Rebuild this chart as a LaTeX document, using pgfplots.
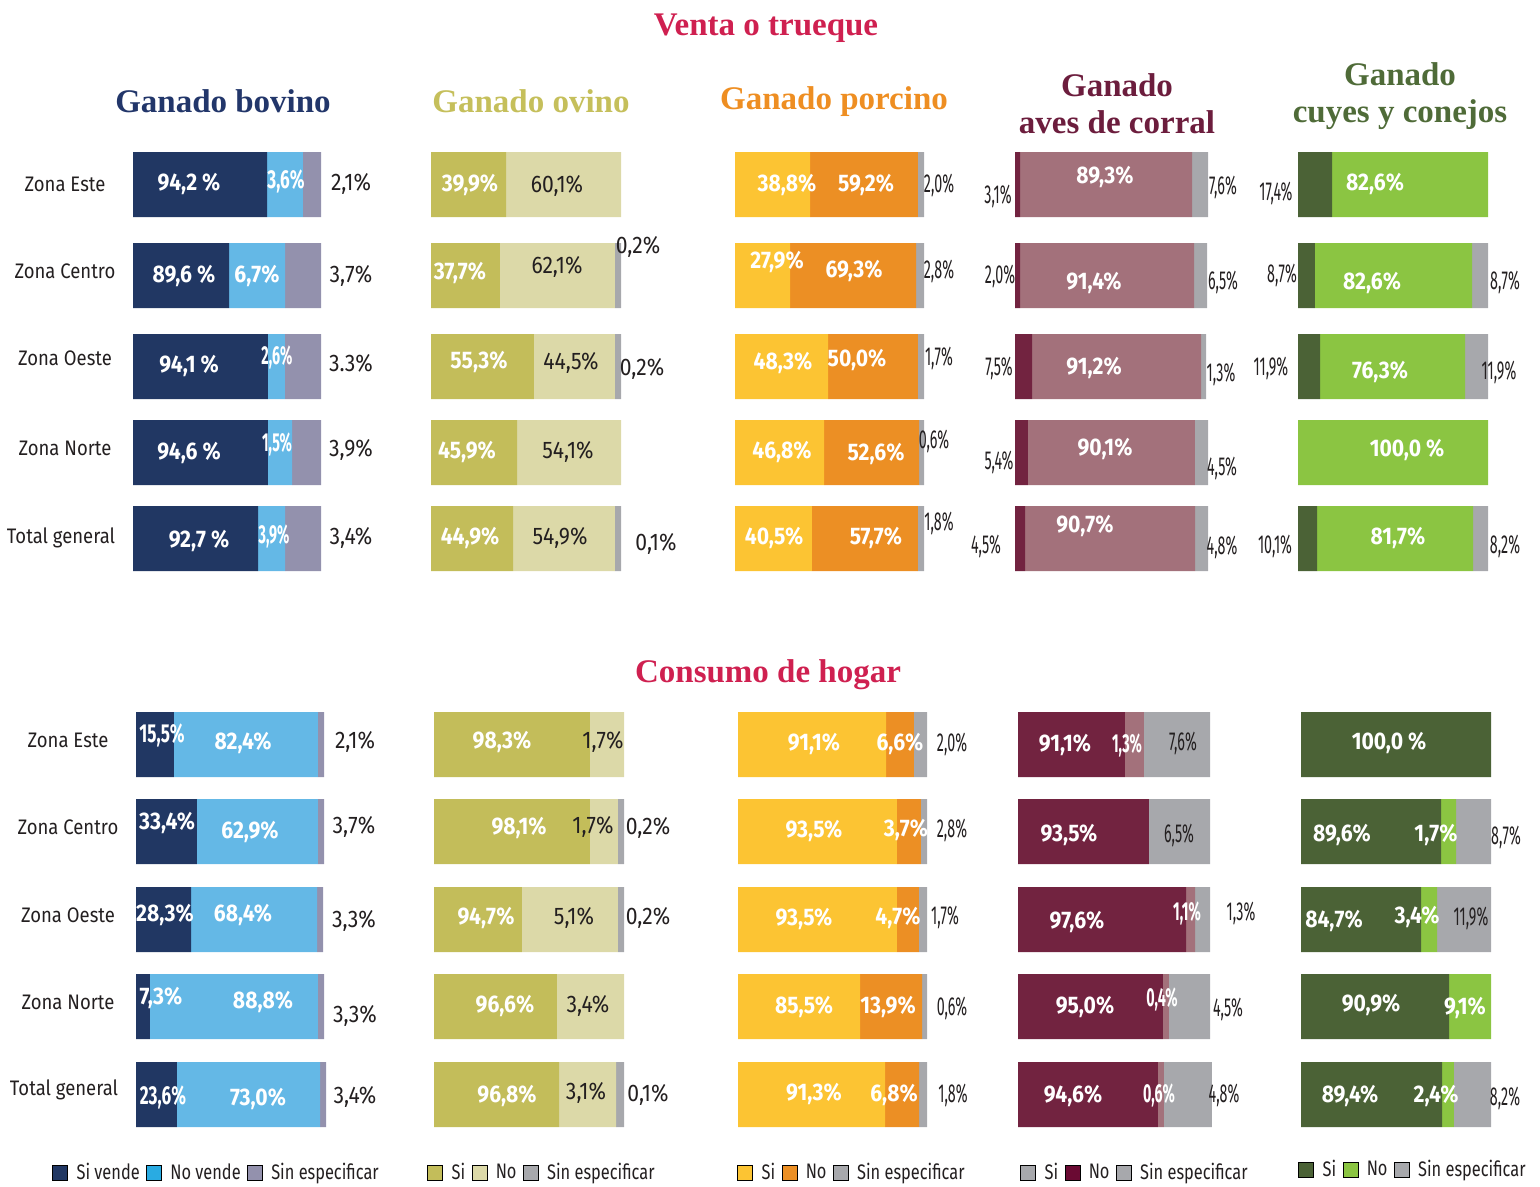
\documentclass[border=0pt]{standalone}
\usepackage{pgfplots}
\usepackage{pgfplotstable}
\pgfplotsset{compat=1.18}
\usepackage{fontspec}
\setmainfont{Fira Sans}[FakeStretch=0.88]
\newfontfamily\condfont{Fira Sans}[FakeStretch=0.66]
\newfontfamily\narrowfont{Fira Sans}[FakeStretch=0.55]
\newfontfamily\legfont{Fira Sans}[FakeStretch=0.78]
\newfontfamily\titlefont{Liberation Serif}

\definecolor{bovA}{HTML}{213763}
\definecolor{bovB}{HTML}{64B8E6}
\definecolor{bovC}{HTML}{9391AD}
\definecolor{bovL}{HTML}{29ABE2}
\definecolor{ovA}{HTML}{C3BD5A}
\definecolor{ovB}{HTML}{DCD9A8}
\definecolor{grC}{HTML}{A7A8AC}
\definecolor{porA}{HTML}{FCC433}
\definecolor{porB}{HTML}{EC8F24}
\definecolor{avA}{HTML}{722340}
\definecolor{avB}{HTML}{A3717B}
\definecolor{avL}{HTML}{6A0A33}
\definecolor{cuA}{HTML}{4B6236}
\definecolor{cuB}{HTML}{8BC542}
\definecolor{tRed}{HTML}{CF2050}
\definecolor{tNavy}{HTML}{22366A}
\definecolor{tOlive}{HTML}{C5BF5B}
\definecolor{tOrange}{HTML}{EE8E22}
\definecolor{tMaroon}{HTML}{6C1D3D}
\definecolor{tGreen}{HTML}{4F6B38}
\definecolor{txt}{HTML}{231F20}

\pgfplotstableread{
y a b c
184.5 71.3 19.1 9.6
275.5 51.1 29.8 19.1
366.5 71.8 9.0 19.2
452.5 71.8 12.8 15.4
538.5 66.5 14.4 19.1
}\tPa
\pgfplotstableread{
y a b c
184.5 39.5 60.5 0
275.5 36.3 60.5 3.2
366.5 54.2 42.6 3.2
452.5 45.3 54.7 0
538.5 43.2 53.6 3.2
}\tPb
\pgfplotstableread{
y a b c
184.5 39.7 57.0 3.3
275.5 29.1 66.7 4.2
366.5 49.2 47.5 3.3
452.5 47.1 50.3 2.6
538.5 40.7 56.1 3.2
}\tPc
\pgfplotstableread{
y a b c
184.5 2.6 89.1 8.3
275.5 2.6 90.2 6.7
366.5 8.8 87.6 2.6
452.5 6.7 86.5 6.8
538.5 5.2 88.1 6.7
}\tPd
\pgfplotstableread{
y a b c
184.5 17.9 82.1 0
275.5 8.9 82.7 8.4
366.5 11.6 76.3 12.1
452.5 0 100 0
538.5 10.0 82.1 7.9
}\tPe
\pgfplotstableread{
y a b c
744.5 20.2 76.6 3.2
831.5 32.4 64.4 3.2
919.5 29.3 67.0 3.2
1006.5 7.4 89.4 3.2
1094.5 21.8 76.1 3.2
}\tQa
\pgfplotstableread{
y a b c
744.5 82.1 17.9 0
831.5 82.1 14.7 3.2
919.5 46.3 50.5 3.2
1006.5 64.7 35.3 0
1094.5 65.8 30.0 4.2
}\tQb
\pgfplotstableread{
y a b c
744.5 78.3 14.8 6.9
831.5 84.1 12.7 3.2
919.5 84.1 11.6 4.3
1006.5 64.6 32.8 2.6
1094.5 77.8 18.0 4.2
}\tQc
\pgfplotstableread{
y a b c
744.5 55.7 9.9 34.4
831.5 68.2 0 31.8
919.5 87.5 4.7 7.8
1006.5 75.5 3.1 21.4
1094.5 72.9 3.1 25.0
}\tQd
\pgfplotstableread{
y a b c
744.5 100 0 0
831.5 73.7 7.9 18.4
919.5 63.2 8.4 28.4
1006.5 77.9 22.1 0
1094.5 74.2 6.3 19.5
}\tQe

\tikzset{
  wb/.style={font=\bfseries\fontsize{12}{14}\selectfont, text=white, inner sep=0pt},
  wc/.style={font=\narrowfont\bfseries\fontsize{13}{15}\selectfont, text=white, inner sep=0pt},
  wm/.style={font=\condfont\bfseries\fontsize{13}{15}\selectfont, text=white, inner sep=0pt},
  dk/.style={font=\fontsize{12}{14}\selectfont, text=txt, inner sep=0pt},
  dc/.style={font=\narrowfont\fontsize{13}{15}\selectfont, text=txt, inner sep=0pt},
  cat/.style={font=\fontsize{10.5}{12}\selectfont, text=txt, inner sep=0pt},
  ttl/.style={font=\titlefont\bfseries\fontsize{16.5}{18.5}\selectfont, align=center, inner sep=0pt},
}
\newcommand\lb[4]{\node[#1] at (axis cs:{(#2-\PL)*100/\PW},#3) {#4};}

\pgfplotsset{
  panel/.style={xbar stacked, bar width=65, scale only axis, height=225pt,
    xmin=0, xmax=100, y dir=reverse, hide axis, clip=false, anchor=south west},
  top/.style={panel, ymin=140, ymax=590},
  bot/.style={panel, ymin=700, ymax=1150},
  leg/.style={hide axis, scale only axis, width=1pt, height=1pt,
    xmin=0, xmax=1, ymin=0, ymax=1, anchor=west,
    legend style={at={(0,0.5)}, anchor=west, draw=none, fill=none,
      inner xsep=0pt, inner ysep=0pt, legend columns=-1, column sep=2.2pt,
      font=\legfont\fontsize{10.5}{12}\selectfont, text=txt,
      /tikz/every even column/.append style={column sep=1.2pt}},
    legend image code/.code={\fill[##1] (0pt,-3.75pt) rectangle (7.5pt,3.75pt);}},
}

\begin{document}
\begin{tikzpicture}
\path[use as bounding box] (0,0) rectangle (770pt,-593.5pt);

% Titles
\begin{scope}[x=0.5pt,y=-0.5pt]
\node[ttl, text=tRed] at (766,28) {Venta o trueque};
\node[ttl, text=tRed] at (768,675) {Consumo de hogar};
\node[ttl, text=tNavy] at (223,101) {Ganado bovino};
\node[ttl, text=tOlive] at (531,101) {Ganado ovino};
\node[ttl, text=tOrange] at (834,102) {Ganado porcino};
\node[ttl, text=tMaroon] at (1117,104) {Ganado\\aves de corral};
\node[ttl, text=tGreen] at (1400,96) {Ganado\\cuyes y conejos};
\end{scope}

% ---------- TOP ROW ----------
\def\PL{133}\def\PW{188}
\begin{axis}[top, width=94pt, at={(66.5pt,-295pt)}]
\addplot[fill=bovA, draw=none] table[x=a,y=y]{\tPa};
\addplot[fill=bovB, draw=none] table[x=b,y=y]{\tPa};
\addplot[fill=bovC, draw=none] table[x=c,y=y]{\tPa};
\end{axis}
\begin{axis}[top, width=94pt, at={(66.5pt,-295pt)}]
\lb{cat}{65}{184}{Zona Este}
\lb{cat}{65}{271}{Zona Centro}
\lb{cat}{65}{358}{Zona Oeste}
\lb{cat}{65}{448}{Zona Norte}
\lb{cat}{61}{538}{Total general}
\lb{wb}{189}{184}{94,2 \%}
\lb{wm}{286}{181}{3,6\%}
\lb{dk}{351}{184}{2,1\%}
\lb{wb}{184}{276}{89,6 \%}
\lb{wb}{257}{276}{6,7\%}
\lb{dk}{351}{276}{3,7\%}
\lb{wb}{189}{366}{94,1 \%}
\lb{wc}{277}{357}{2,6\%}
\lb{dk}{351}{363}{3.3\%}
\lb{wb}{189}{453}{94,6 \%}
\lb{wc}{277}{444}{1,5\%}
\lb{dk}{351}{450}{3,9\%}
\lb{wb}{199}{541}{92,7 \%}
\lb{wc}{274}{536}{3,9\%}
\lb{dk}{351}{538}{3,4\%}
\end{axis}

\def\PL{431}\def\PW{190}
\begin{axis}[top, width=95pt, at={(215.5pt,-295pt)}]
\addplot[fill=ovA, draw=none] table[x=a,y=y]{\tPb};
\addplot[fill=ovB, draw=none] table[x=b,y=y]{\tPb};
\addplot[fill=grC, draw=none] table[x=c,y=y]{\tPb};
\end{axis}
\begin{axis}[top, width=95pt, at={(215.5pt,-295pt)}]
\lb{wb}{470}{185}{39,9\%}
\lb{dk}{557}{186}{60,1\%}
\lb{wb}{460}{273}{37,7\%}
\lb{dk}{557}{267}{62,1\%}
\lb{dk}{638}{247}{0,2\%}
\lb{wb}{479}{362}{55,3\%}
\lb{dk}{571}{363}{44,5\%}
\lb{dk}{642}{369}{0,2\%}
\lb{wb}{467}{452}{45,9\%}
\lb{dk}{568}{452}{54,1\%}
\lb{wb}{470}{538}{44,9\%}
\lb{dk}{560}{538}{54,9\%}
\lb{dk}{656}{544}{0,1\%}
\end{axis}

\def\PL{735}\def\PW{189}
\begin{axis}[top, width=94.5pt, at={(367.5pt,-295pt)}]
\addplot[fill=porA, draw=none] table[x=a,y=y]{\tPc};
\addplot[fill=porB, draw=none] table[x=b,y=y]{\tPc};
\addplot[fill=grC, draw=none] table[x=c,y=y]{\tPc};
\end{axis}
\begin{axis}[top, width=94.5pt, at={(367.5pt,-295pt)}]
\lb{wb}{787}{185}{38,8\%}
\lb{wb}{866}{185}{59,2\%}
\lb{dc}{939}{185}{2,0\%}
\lb{wb}{777}{262}{27,9\%}
\lb{wb}{854}{271}{69,3\%}
\lb{dc}{939}{271}{2,8\%}
\lb{wb}{783}{363}{48,3\%}
\lb{wb}{857}{360}{50,0\%}
\lb{dc}{939}{358}{1,7\%}
\lb{wb}{782}{452}{46,8\%}
\lb{wb}{876}{454}{52,6\%}
\lb{dc}{934}{441}{0,6\%}
\lb{wb}{774}{538}{40,5\%}
\lb{wb}{876}{538}{57,7\%}
\lb{dc}{939}{523}{1,8\%}
\end{axis}

\def\PL{1015}\def\PW{193}
\begin{axis}[top, width=96.5pt, at={(507.5pt,-295pt)}]
\addplot[fill=avA, draw=none] table[x=a,y=y]{\tPd};
\addplot[fill=avB, draw=none] table[x=b,y=y]{\tPd};
\addplot[fill=grC, draw=none] table[x=c,y=y]{\tPd};
\end{axis}
\begin{axis}[top, width=96.5pt, at={(507.5pt,-295pt)}]
\lb{dc}{998}{196}{3,1\%}
\lb{wb}{1105}{177}{89,3\%}
\lb{dc}{1223}{187}{7,6\%}
\lb{dc}{1000}{276}{2,0\%}
\lb{wb}{1094}{283}{91,4\%}
\lb{dc}{1223}{282}{6,5\%}
\lb{dc}{999}{368}{7,5\%}
\lb{wb}{1094}{368}{91,2\%}
\lb{dc}{1221}{374}{1,3\%}
\lb{dc}{999}{462}{5,4\%}
\lb{wb}{1105}{449}{90,1\%}
\lb{dc}{1222}{468}{4,5\%}
\lb{dc}{986}{546}{4,5\%}
\lb{wb}{1085}{526}{90,7\%}
\lb{dc}{1222}{547}{4,8\%}
\end{axis}

\def\PL{1298}\def\PW{190}
\begin{axis}[top, width=95pt, at={(649pt,-295pt)}]
\addplot[fill=cuA, draw=none] table[x=a,y=y]{\tPe};
\addplot[fill=cuB, draw=none] table[x=b,y=y]{\tPe};
\addplot[fill=grC, draw=none] table[x=c,y=y]{\tPe};
\end{axis}
\begin{axis}[top, width=95pt, at={(649pt,-295pt)}]
\lb{dc}{1276}{193}{17,4\%}
\lb{wb}{1375}{184}{82,6\%}
\lb{dc}{1282}{275}{8,7\%}
\lb{wb}{1372}{283}{82,6\%}
\lb{dc}{1505}{282}{8,7\%}
\lb{dc}{1271}{368}{11,9\%}
\lb{wb}{1380}{372}{76,3\%}
\lb{dc}{1499}{372}{11,9\%}
\lb{wb}{1407}{450}{100,0 \%}
\lb{dc}{1275}{546}{10,1\%}
\lb{wb}{1398}{538}{81,7\%}
\lb{dc}{1505}{546}{8,2\%}
\end{axis}

% ---------- BOTTOM ROW ----------
\def\PL{136}\def\PW{188}
\begin{axis}[bot, width=94pt, at={(68pt,-575pt)}]
\addplot[fill=bovA, draw=none] table[x=a,y=y]{\tQa};
\addplot[fill=bovB, draw=none] table[x=b,y=y]{\tQa};
\addplot[fill=bovC, draw=none] table[x=c,y=y]{\tQa};
\end{axis}
\begin{axis}[bot, width=94pt, at={(68pt,-575pt)}]
\lb{cat}{68}{740}{Zona Este}
\lb{cat}{68}{827}{Zona Centro}
\lb{cat}{68}{915}{Zona Oeste}
\lb{cat}{68}{1002}{Zona Norte}
\lb{cat}{64}{1090}{Total general}
\lb{wm}{162}{735}{15,5\%}
\lb{wb}{243}{743}{82,4\%}
\lb{dk}{355}{742}{2,1\%}
\lb{wb}{167}{823}{33,4\%}
\lb{wb}{250}{832}{62,9\%}
\lb{dk}{354}{827}{3,7\%}
\lb{wb}{165}{915}{28,3\%}
\lb{wb}{243}{915}{68,4\%}
\lb{dk}{354}{921}{3,3\%}
\lb{wb}{161}{998}{7,3\%}
\lb{wb}{263}{1002}{88,8\%}
\lb{dk}{355}{1016}{3,3\%}
\lb{wm}{163}{1097}{23,6\%}
\lb{wb}{258}{1099}{73,0\%}
\lb{dk}{355}{1097}{3,4\%}
\end{axis}

\def\PL{434}\def\PW{190}
\begin{axis}[bot, width=95pt, at={(217pt,-575pt)}]
\addplot[fill=ovA, draw=none] table[x=a,y=y]{\tQb};
\addplot[fill=ovB, draw=none] table[x=b,y=y]{\tQb};
\addplot[fill=grC, draw=none] table[x=c,y=y]{\tQb};
\end{axis}
\begin{axis}[bot, width=95pt, at={(217pt,-575pt)}]
\lb{wb}{502}{742}{98,3\%}
\lb{dk}{603}{742}{1,7\%}
\lb{wb}{519}{828}{98,1\%}
\lb{dk}{593}{827}{1,7\%}
\lb{dk}{648}{828}{0,2\%}
\lb{wb}{486}{918}{94,7\%}
\lb{dk}{574}{918}{5,1\%}
\lb{dk}{648}{918}{0,2\%}
\lb{wb}{505}{1006}{96,6\%}
\lb{dk}{588}{1006}{3,4\%}
\lb{wb}{507}{1096}{96,8\%}
\lb{dk}{586}{1093}{3,1\%}
\lb{dk}{648}{1095}{0,1\%}
\end{axis}

\def\PL{738}\def\PW{189}
\begin{axis}[bot, width=94.5pt, at={(369pt,-575pt)}]
\addplot[fill=porA, draw=none] table[x=a,y=y]{\tQc};
\addplot[fill=porB, draw=none] table[x=b,y=y]{\tQc};
\addplot[fill=grC, draw=none] table[x=c,y=y]{\tQc};
\end{axis}
\begin{axis}[bot, width=94.5pt, at={(369pt,-575pt)}]
\lb{wb}{814}{744}{91,1\%}
\lb{wb}{900}{744}{6,6\%}
\lb{dc}{952}{744}{2,0\%}
\lb{wb}{814}{831}{93,5\%}
\lb{wb}{906}{830}{3,7\%}
\lb{dc}{952}{830}{2,8\%}
\lb{wb}{804}{919}{93,5\%}
\lb{wb}{898}{918}{4,7\%}
\lb{dc}{945}{917}{1,7\%}
\lb{wb}{804}{1007}{85,5\%}
\lb{wb}{888}{1007}{13,9\%}
\lb{dc}{952}{1008}{0,6\%}
\lb{wb}{814}{1094}{91,3\%}
\lb{wb}{894}{1095}{6,8\%}
\lb{dc}{953}{1095}{1,8\%}
\end{axis}

\def\PL{1018}\def\PW{192}
\begin{axis}[bot, width=96pt, at={(509pt,-575pt)}]
\addplot[fill=avA, draw=none] table[x=a,y=y]{\tQd};
\addplot[fill=avB, draw=none] table[x=b,y=y]{\tQd};
\addplot[fill=grC, draw=none] table[x=c,y=y]{\tQd};
\end{axis}
\begin{axis}[bot, width=96pt, at={(509pt,-575pt)}]
\lb{wb}{1065}{745}{91,1\%}
\lb{wc}{1127}{745}{1,3\%}
\lb{dc}{1183}{743}{7,6\%}
\lb{wb}{1069}{835}{93,5\%}
\lb{dc}{1179}{835}{6,5\%}
\lb{wb}{1077}{922}{97,6\%}
\lb{wc}{1187}{913}{1,1\%}
\lb{dc}{1241}{913}{1,3\%}
\lb{wb}{1085}{1007}{95,0\%}
\lb{wc}{1162}{999}{0,4\%}
\lb{dc}{1228}{1009}{4,5\%}
\lb{wb}{1073}{1096}{94,6\%}
\lb{wc}{1159}{1095}{0,6\%}
\lb{dc}{1224}{1095}{4,8\%}
\end{axis}

\def\PL{1301}\def\PW{190}
\begin{axis}[bot, width=95pt, at={(650.5pt,-575pt)}]
\addplot[fill=cuA, draw=none] table[x=a,y=y]{\tQe};
\addplot[fill=cuB, draw=none] table[x=b,y=y]{\tQe};
\addplot[fill=grC, draw=none] table[x=c,y=y]{\tQe};
\end{axis}
\begin{axis}[bot, width=95pt, at={(650.5pt,-575pt)}]
\lb{wb}{1389}{743}{100,0 \%}
\lb{wb}{1342}{835}{89,6\%}
\lb{wb}{1436}{835}{1,7\%}
\lb{dc}{1506}{837}{8,7\%}
\lb{wb}{1334}{921}{84,7\%}
\lb{wb}{1417}{917}{3,4\%}
\lb{dc}{1471}{918}{11,9\%}
\lb{wb}{1371}{1005}{90,9\%}
\lb{wb}{1465}{1008}{9,1\%}
\lb{wb}{1350}{1096}{89,4\%}
\lb{wb}{1436}{1096}{2,4\%}
\lb{dc}{1505}{1098}{8,2\%}
\end{axis}

% ---------- LEGENDS ----------
\begin{axis}[leg, at={(26pt,-586.5pt)}]
\addlegendimage{fill=bovA}\addlegendentry{Si vende}
\addlegendimage{fill=bovL}\addlegendentry{No vende}
\addlegendimage{fill=bovC}\addlegendentry{Sin especificar}
\end{axis}
\begin{axis}[leg, at={(213.5pt,-586.5pt)}]
\addlegendimage{fill=ovA}\addlegendentry{Si}
\addlegendimage{fill=ovB}\addlegendentry{No}
\addlegendimage{fill=grC}\addlegendentry{Sin especificar}
\end{axis}
\begin{axis}[leg, at={(368.5pt,-586.5pt)}]
\addlegendimage{fill=porA}\addlegendentry{Si}
\addlegendimage{fill=porB}\addlegendentry{No}
\addlegendimage{fill=grC}\addlegendentry{Sin especificar}
\end{axis}
\begin{axis}[leg, at={(510pt,-586.5pt)}]
\addlegendimage{fill=grC}\addlegendentry{Si}
\addlegendimage{fill=avL}\addlegendentry{No}
\addlegendimage{fill=grC}\addlegendentry{Sin especificar}
\end{axis}
\begin{axis}[leg, at={(649pt,-585pt)}]
\addlegendimage{fill=cuA}\addlegendentry{Si}
\addlegendimage{fill=cuB}\addlegendentry{No}
\addlegendimage{fill=grC}\addlegendentry{Sin especificar}
\end{axis}
\end{tikzpicture}
\end{document}
